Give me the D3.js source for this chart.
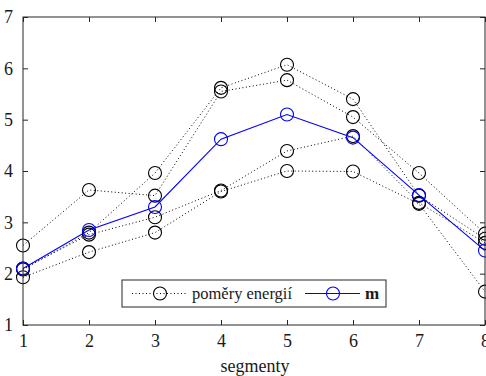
<!DOCTYPE html>
<html><head><meta charset="utf-8">
<script src="https://cdn.jsdelivr.net/npm/d3@7"></script>
<style>body{margin:0;background:#fff}text{font-family:"Liberation Serif","DejaVu Serif",serif}</style>
</head><body><svg id="c" width="486" height="376"></svg>
<script>
const segments = [1,2,3,4,5,6,7,8];
const s1 = [2.55,3.63,3.52,5.55,5.77,5.05,3.96,2.78];
const s2 = [2.08,2.80,3.96,5.62,6.07,5.40,3.52,2.68];
const s3 = [2.10,2.76,3.10,3.62,4.39,4.68,3.38,2.60];
const s4 = [1.93,2.42,2.80,3.60,4.00,3.99,3.36,1.65];
const m  = [2.10,2.85,3.30,4.62,5.10,4.65,3.53,2.45];
const xTicks = [1,2,3,4,5,6,7,8];
const yTicks = [1,2,3,4,5,6,7];
const blackLabel = "poměry energií";
const blueLabel = "m";
const xLabel = "segmenty";

const svg = d3.select("#c");
const L=23,R=485,T=17,B=325;
const x = d3.scaleLinear().domain([1,8]).range([L,R]);
const y = d3.scaleLinear().domain([1,7]).range([B,T]);
const axCol="#262626";
const g = svg.append("g");
g.append("rect").attr("x",L).attr("y",T).attr("width",R-L).attr("height",B-T).attr("fill","#fff");

const line = d3.line().x((d,i)=>x(segments[i])).y(d=>y(d));
[s1,s2,s3,s4].forEach(s=>{
  g.append("path").attr("d",line(s)).attr("fill","none").attr("stroke","#000").attr("stroke-width",1).attr("stroke-dasharray","1,2.5");
  g.selectAll(null).data(s).enter().append("circle").attr("cx",(d,i)=>x(segments[i])).attr("cy",d=>y(d)).attr("r",6.5).attr("fill","none").attr("stroke","#000").attr("stroke-width",1.1);
});
g.append("path").attr("d",line(m)).attr("fill","none").attr("stroke","#0000ff").attr("stroke-width",1.1);
g.selectAll(null).data(m).enter().append("circle").attr("cx",(d,i)=>x(segments[i])).attr("cy",d=>y(d)).attr("r",6.5).attr("fill","none").attr("stroke","#0000ff").attr("stroke-width",1.1);

// axes
const ax = svg.append("g");
const axB = d3.axisBottom(x).tickValues(xTicks).tickSize(-5).tickPadding(9).tickFormat(d3.format("d"));
const axT = d3.axisTop(x).tickValues(xTicks).tickSize(-5).tickFormat("");
const axL = d3.axisLeft(y).tickValues(yTicks).tickSize(-5).tickPadding(10).tickFormat(d3.format("d"));
const axR = d3.axisRight(y).tickValues(yTicks).tickSize(-5).tickFormat("");
[[axB,`translate(0,${B})`],[axT,`translate(0,${T})`],[axL,`translate(${L},0)`],[axR,`translate(${R},0)`]].forEach(([a,t])=>{
  const gg = ax.append("g").attr("transform",t).call(a);
  gg.attr("font-family",null);
  gg.select(".domain").remove();
  gg.selectAll("line").attr("stroke",axCol);
  gg.selectAll("text").attr("fill","#1a1a1a").style("font-size","18px").style("font-family",'"Liberation Serif",serif');
});
ax.append("rect").attr("x",L).attr("y",T).attr("width",R-L).attr("height",B-T).attr("fill","none").attr("stroke",axCol).attr("stroke-width",1);

svg.append("text").attr("x",(L+R)/2+1).attr("y",372).attr("text-anchor","middle").attr("fill","#1a1a1a").style("font-size","18px").text(xLabel);

// legend
const lg = svg.append("g");
lg.append("rect").attr("x",122).attr("y",280).attr("width",264).attr("height",27).attr("fill","#fff").attr("stroke",axCol).attr("stroke-width",1);
lg.append("line").attr("x1",132).attr("x2",188).attr("y1",293.5).attr("y2",293.5).attr("stroke","#000").attr("stroke-dasharray","1,2.5");
lg.append("circle").attr("cx",160).attr("cy",293.5).attr("r",6.5).attr("fill","none").attr("stroke","#000").attr("stroke-width",1.1);
lg.append("text").attr("x",192).attr("y",299).attr("fill","#1a1a1a").style("font-size","16.5px").text(blackLabel);
lg.append("line").attr("x1",305).attr("x2",360).attr("y1",293.5).attr("y2",293.5).attr("stroke","#0000ff").attr("stroke-width",1.1);
lg.append("circle").attr("cx",333).attr("cy",293.5).attr("r",6.5).attr("fill","none").attr("stroke","#0000ff").attr("stroke-width",1.1);
lg.append("text").attr("x",365).attr("y",299).attr("fill","#1a1a1a").style("font-size","17px").style("font-weight","bold").text(blueLabel);
</script></body></html>
